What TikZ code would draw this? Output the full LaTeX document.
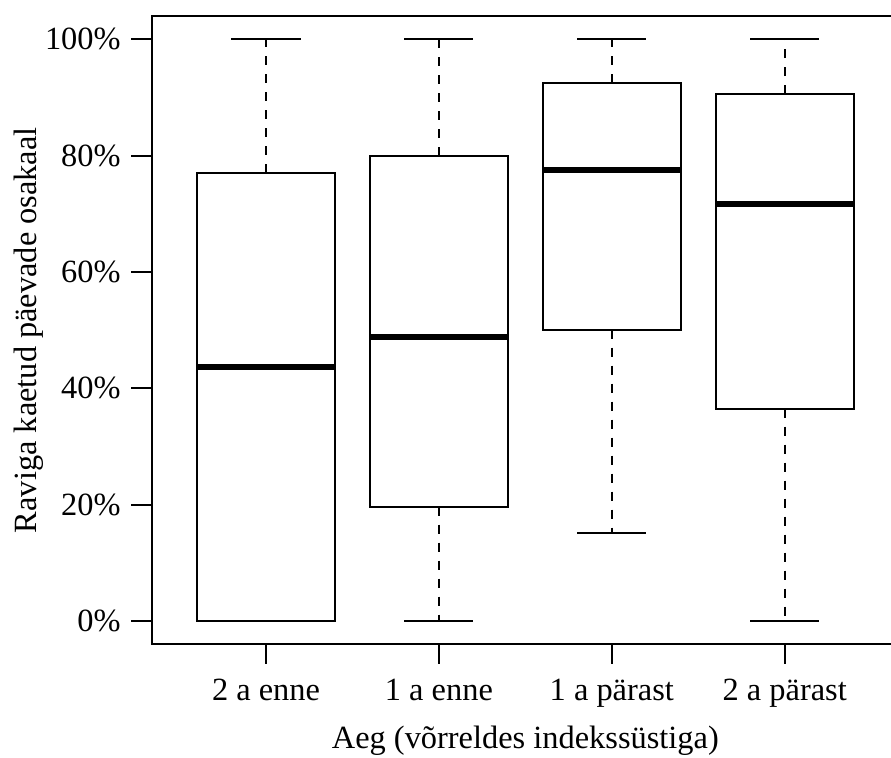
\documentclass[tikz,border=0pt]{standalone}
\usepackage{fontspec}
\setmainfont{Liberation Serif}
\tikzset{
	boxline/.style={line width=1pt},
	medianline/.style={line width=3pt},
	whisker/.style={line width=1pt, dash pattern=on 4.5pt off 4.5pt},
	lbl/.style={font=\fontsize{16.2}{19}\selectfont, inner sep=0pt},
}
\begin{document}
\begin{tikzpicture}[x=86.45pt, y=2.9085pt]
		\useasboundingbox (-0.5385,-23.38) rectangle (4.6148,106.76);
		\clip (-0.5385,-23.38) rectangle (4.6148,106.76);
		\def\bw{0.4}
		\def\cw{0.2}
		\foreach \x/\lo/\qa/\md/\qb/\hi in {1/0/0/43.6/77.1/100, 2/0/19.65/48.8/80.0/100, 3/15.07/50.1/77.5/92.5/100, 4/0/36.5/71.7/90.6/100}{
			\draw[whisker] (\x,\qb) -- (\x,\hi);
			\draw[whisker] (\x,\qa) -- (\x,\lo);
			\draw[boxline] (\x-\cw,\hi) -- (\x+\cw,\hi);
			\draw[boxline] (\x-\cw,\lo) -- (\x+\cw,\lo);
			\draw[boxline] (\x-\bw,\qa) rectangle (\x+\bw,\qb);
			\draw[medianline] (\x-\bw,\md) -- (\x+\bw,\md);
		}
		\draw[boxline] (0.34,-4) rectangle (4.66,104);
		\foreach \p in {0,20,...,100}{
			\draw[boxline] (0.34,\p) -- (0.2175,\p);
			\node[lbl, anchor=east] (y\p) at (0.1614,\p) {\p\%};
		}
		\foreach \x/\t in {1/2 a enne, 2/1 a enne, 3/1 a pärast, 4/2 a pärast}{
			\draw[boxline] (\x,-4) -- (\x,-7.39);
			\node[lbl, anchor=base] (x\x) at (\x,-13.58) {\t};
		}
		\node[lbl, anchor=base] (xlab) at (2.5,-22.0) {Aeg (võrreldes indekssüstiga)};
		\node[lbl, anchor=base, rotate=90] (ylab) at (-0.330,50) {Raviga kaetud päevade osakaal};
	\end{tikzpicture}
\end{document}
